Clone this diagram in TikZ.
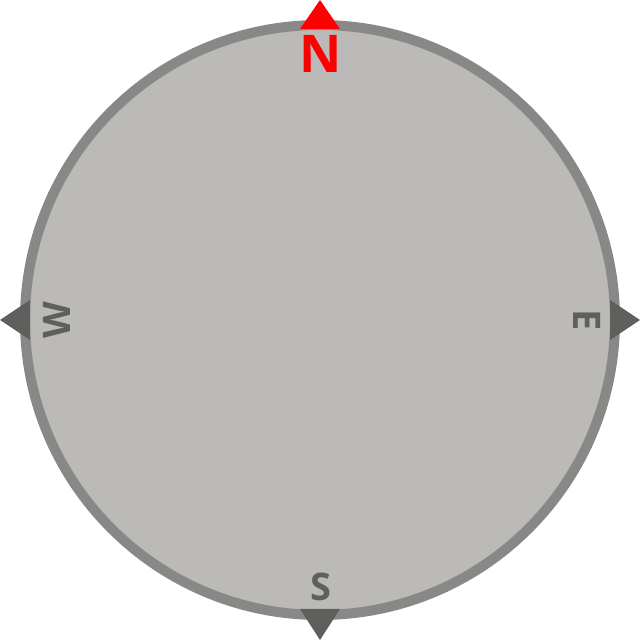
\documentclass[tikz,border=0pt]{standalone}
\usepackage{fontspec}
\setmainfont{Open Sans}
\definecolor{rimgray}{HTML}{888887}
\definecolor{facegray}{HTML}{BBBAB9}
\definecolor{markgray}{HTML}{5F5F5E}
\definecolor{northred}{HTML}{FF0000}
\begin{document}
\begin{tikzpicture}[x=1pt,y=1pt]
\tikzset{
  tip/.style={fill=markgray, draw=none},
  letter/.style={text=markgray, font=\bfseries\fontsize{38}{38}\selectfont, inner sep=0pt, anchor=base},
}
\useasboundingbox (0,0) rectangle (640,640);
\node[circle, minimum size=590pt, inner sep=0pt, draw=rimgray, fill=facegray, line width=10pt] (dial) at (320,320) {};
% pointers
\fill[northred] (300,611) -- (320,640) -- (340,611) -- cycle;
\fill[markgray] (610,340) -- (640,320) -- (610,300) -- cycle;
\fill[markgray] (300,31) -- (320,0) -- (340,31) -- cycle;
\fill[markgray] (30,340) -- (0,320) -- (30,300) -- cycle;
% letters
\node[text=northred, font=\bfseries\fontsize{52}{52}\selectfont, inner sep=0pt, anchor=base] (N) at (320.5,567) {N};
\node[letter, rotate=-90] (E) at (573,320) {E};
\node[letter, rotate=90] (W) at (70,320) {W};
\node[letter] (S) at (320.5,39) {S};
\end{tikzpicture}
\end{document}
